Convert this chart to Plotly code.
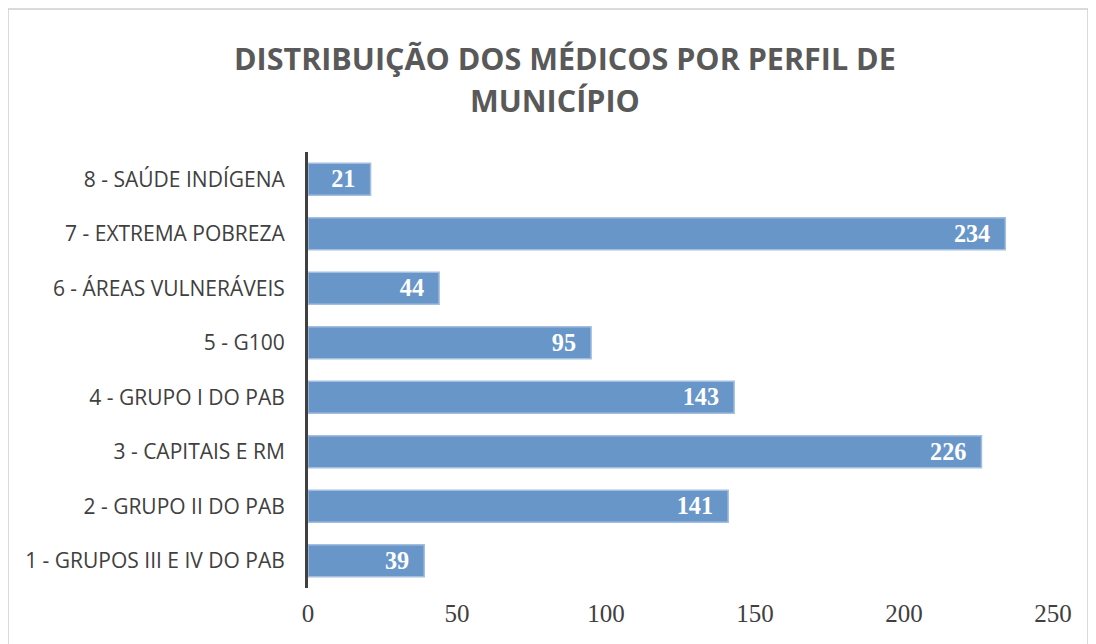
import plotly.graph_objects as go

categories = [
    "1 - GRUPOS III E IV DO PAB",
    "2 - GRUPO II DO PAB",
    "3 - CAPITAIS E RM",
    "4 - GRUPO I DO PAB",
    "5 - G100",
    "6 - ÁREAS VULNERÁVEIS",
    "7 - EXTREMA POBREZA",
    "8 - SAÚDE INDÍGENA",
]
values = [39, 141, 226, 143, 95, 44, 234, 21]
x_ticks = [0, 50, 100, 150, 200, 250]
title_lines = ["DISTRIBUIÇÃO DOS MÉDICOS POR PERFIL DE", "MUNICÍPIO"]

# page body has an 8px margin, so the figure starts at (8, 8) on screen
W, H = 1088, 636
L, R, T, B = 300, 43, 144, 56
pw, ph = W - L - R, H - T - B

fig = go.Figure(go.Bar(
    y=categories,
    x=values,
    orientation="h",
    marker=dict(color="#6896C9", line=dict(color="#A3BEE0", width=1.5)),
    text=[str(v) + "\u00a0\u00a0" for v in values],
    textposition="inside",
    insidetextanchor="end",
    textfont=dict(family="Liberation Serif, DejaVu Serif, serif", size=25, color="white", weight="bold"),
    cliponaxis=False,
))

title_font = dict(family="Open Sans, Lato, sans-serif", size=30.5, color="#595959", weight="bold")
title_pos = [(565, 58), (555, 100)]  # screen centres of each title line
annotations = []
for line, (sx, sy) in zip(title_lines, title_pos):
    annotations.append(dict(
        text=line, xref="paper", yref="paper",
        x=(sx - 8 - L) / pw, y=1 + (T - (sy - 8)) / ph,
        xanchor="center", yanchor="middle", showarrow=False,
        font=title_font,
    ))

fig.update_layout(
    width=W, height=H,
    paper_bgcolor="white", plot_bgcolor="white",
    margin=dict(l=L, r=R, t=T, b=B, autoexpand=False),
    bargap=0.41,
    showlegend=False,
    xaxis=dict(
        range=[0, 250], tickvals=x_ticks, showgrid=False, zeroline=False,
        showline=False, ticks="",
        tickfont=dict(family="Liberation Serif, DejaVu Serif, serif", size=25, color="#404040"),
        ticklabelstandoff=8,
    ),
    yaxis=dict(
        showgrid=False, zeroline=False, showline=True, linecolor="#404040", linewidth=3,
        ticks="",
        tickfont=dict(family="Open Sans, Lato, sans-serif", size=21, color="#404040"),
        ticklabelstandoff=16,
    ),
    annotations=annotations,
    shapes=[dict(type="rect", xref="paper", yref="paper",
                 x0=(0 - L) / pw, x1=(1080 - L) / pw,
                 y0=-0.3, y1=1 + (T - 1) / ph,
                 line=dict(color="#D0D0D0", width=1.5))],
)

fig.write_html("out.html")
